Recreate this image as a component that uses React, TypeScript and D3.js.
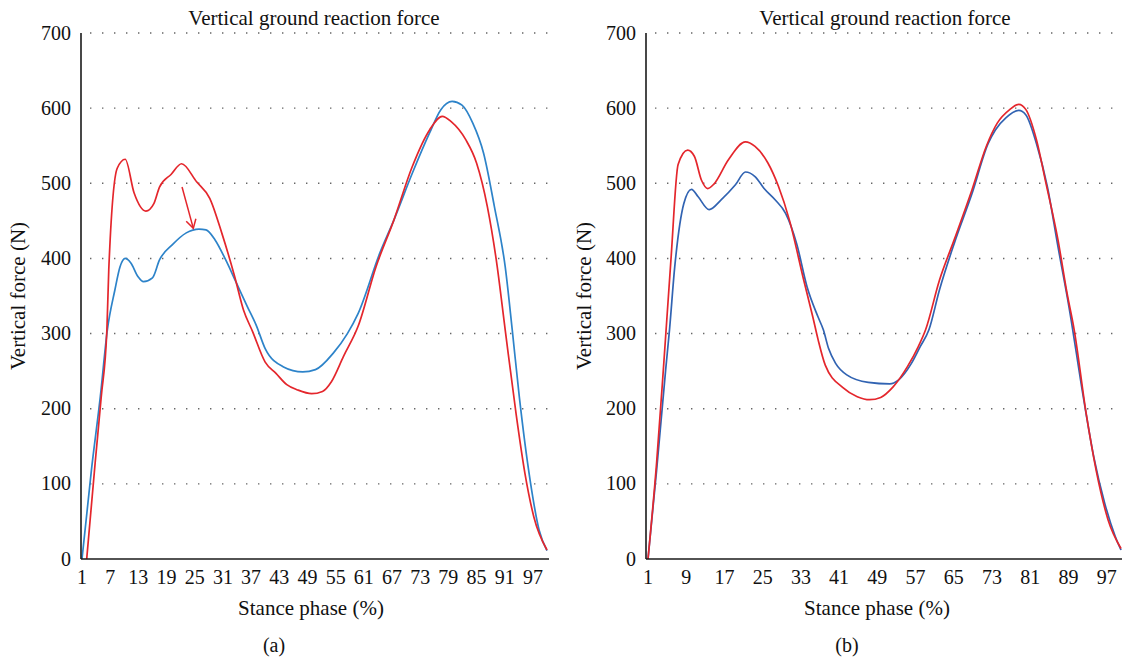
import React from "react";
import * as d3 from "d3";

// ---------- data ----------
const forceTicks = [0, 100, 200, 300, 400, 500, 600, 700];
const phaseTicksA = [1, 7, 13, 19, 25, 31, 37, 43, 49, 55, 61, 67, 73, 79, 85, 91, 97];
const phaseTicksB = [1, 9, 17, 25, 33, 41, 49, 57, 65, 73, 81, 89, 97];

const chartTitle = "Vertical ground reaction force";
const yTitle = "Vertical force (N)";
const xTitle = "Stance phase (%)";
const panelLabels = ["(a)", "(b)"];

// Panel (a): [stance phase %, force N]
const aRed: [number, number][] = [
  [2, 0], [3.8, 128], [5.1, 216], [6.3, 305], [6.7, 385], [8.5, 520], [10.2, 532],
  [12.1, 487], [14.6, 463], [16.3, 473], [17.5, 495], [20, 512], [22.2, 526],
  [25.4, 502], [28.2, 480], [30.8, 433], [33.5, 376], [35.4, 331], [37.3, 303],
  [40, 262], [42.3, 247], [44.6, 232], [46.9, 225], [49.9, 220], [52.2, 223],
  [54.1, 236], [56.7, 270], [59.8, 310], [63.6, 389], [67.4, 451], [71.3, 522],
  [75, 571], [77.7, 589], [79.6, 582], [82.7, 558], [85, 527], [87.3, 469],
  [89.2, 398], [91.1, 305], [93.4, 194], [95.3, 114], [97.2, 56], [100, 12],
];
const aBlue: [number, number][] = [
  [1, 0], [3, 118], [4.9, 216], [6.4, 305], [8, 358], [9.1, 389], [10.2, 400],
  [11.4, 394], [12.9, 376], [14.1, 369], [16, 374], [17.5, 398], [20.2, 418],
  [23.2, 434], [25.9, 439], [27.4, 438], [29.3, 425], [31.6, 398], [33.9, 367],
  [36.2, 336], [38.1, 311], [40, 280], [43.8, 256], [48, 249], [50.7, 252],
  [54.5, 274], [57.5, 300], [59.8, 327], [64.4, 407], [67.4, 451], [71.3, 513],
  [75, 567], [77.4, 598], [79.8, 609], [81.9, 604], [84.2, 580], [86.5, 540],
  [88.8, 469], [91.1, 389], [92.6, 305], [94.1, 216], [96.4, 105], [98.3, 39], [100, 11],
];
// red arrow annotation in panel (a): [from, to]
const aArrow: [number, number][] = [[22.3, 495], [24.7, 440]];

// Panel (b)
const bRed: [number, number][] = [
  [1, 0], [2.8, 128], [4.3, 260], [5.8, 398], [7.3, 525], [9.3, 544], [10.7, 536],
  [12.2, 504], [13.5, 493], [14.8, 499], [17.8, 531], [21.4, 555], [23.4, 549],
  [26.1, 527], [28.3, 496], [30.6, 451], [33.6, 371], [35.5, 322], [36.6, 292],
  [38.1, 258], [41.8, 228], [44.8, 216], [47.4, 212], [49.7, 215], [52.3, 229],
  [55.3, 256], [57.6, 283], [59.1, 305], [62, 371], [65.1, 425], [68.8, 491],
  [71.8, 549], [74.1, 580], [76.7, 598], [78.6, 605], [80.1, 598], [82.3, 558],
  [84.3, 500], [86.8, 425], [88.7, 354], [90.2, 305], [92.7, 194], [94.8, 118],
  [97.3, 52], [100, 14],
];
const bBlue: [number, number][] = [
  [1, 0], [2.8, 118], [4.7, 252], [5.5, 305], [6.6, 389], [8.5, 473], [10.1, 492],
  [11.5, 482], [13.8, 465], [16.3, 478], [19.3, 498], [21.4, 515], [23.4, 509],
  [25.3, 493], [27.6, 478], [29.8, 460], [32.1, 420], [34.3, 362], [36.6, 322],
  [37.7, 305], [38.8, 280], [40.3, 260], [42.6, 245], [47.1, 235], [51.6, 233],
  [53.4, 238], [56.1, 260], [58, 283], [59.8, 305], [62, 358], [65.1, 420],
  [68.8, 486], [72.2, 553], [73.7, 571], [75.9, 587], [78.6, 597], [80.1, 591],
  [82.3, 553], [84.6, 495], [86.8, 416], [89.1, 336], [92.1, 216], [94.3, 136],
  [96.6, 74], [98.8, 30], [100, 12],
];

// ---------- styling ----------
const FONT = '"Liberation Serif", "DejaVu Serif", "Times New Roman", Times, serif';
const RED = "#e4262c";
const BLUE_A = "#2d83c9";
const BLUE_B = "#3163b2";

type PanelProps = {
  x0: number; // pixel of phase 1
  x1: number; // pixel of phase 100
  axisX: number;
  gridStart: number;
  gridEnd: number;
  yLabelRight: number;
  yTitleX: number;
  titleX: number;
  xTitleX: number;
  labelX: number;
  ticks: number[];
  red: [number, number][];
  blue: [number, number][];
  blueColor: string;
  label: string;
  arrow?: [number, number][];
};

const yScale = d3.scaleLinear().domain([0, 700]).range([559, 33]);

function Panel(p: PanelProps) {
  const x = d3.scaleLinear().domain([1, 100]).range([p.x0, p.x1]);
  const line = d3
    .line<[number, number]>()
    .x((d) => x(d[0]))
    .y((d) => yScale(d[1]))
    .curve(d3.curveMonotoneX);

  let arrowEl: React.ReactNode = null;
  if (p.arrow) {
    const [a, b] = p.arrow;
    const ax = x(a[0]), ay = yScale(a[1]);
    const bx = x(b[0]), by = yScale(b[1]);
    const ang = Math.atan2(by - ay, bx - ax);
    const len = 10;
    const spread = Math.PI / 6;
    const h1 = [bx - len * Math.cos(ang - spread), by - len * Math.sin(ang - spread)];
    const h2 = [bx - len * Math.cos(ang + spread), by - len * Math.sin(ang + spread)];
    arrowEl = (
      <g stroke={RED} strokeWidth={1.5} fill="none">
        <line x1={ax} y1={ay} x2={bx} y2={by} />
        <polyline points={`${h1[0]},${h1[1]} ${bx},${by} ${h2[0]},${h2[1]}`} />
      </g>
    );
  }

  const yMid = (yScale(0) + yScale(700)) / 2;
  const txt = { fontFamily: FONT, fill: "#111" } as React.CSSProperties;

  return (
    <g>
      {/* title */}
      <text x={p.titleX} y={25} textAnchor="middle" style={{ ...txt, fontSize: "21px" }}>
        {chartTitle}
      </text>
      {/* grid */}
      {forceTicks.filter((t) => t > 0).map((t) => (
        <line
          key={t}
          x1={p.gridStart}
          x2={p.gridEnd}
          y1={yScale(t)}
          y2={yScale(t)}
          stroke="#666"
          strokeWidth={1.4}
          strokeDasharray="1.4 10.6"
        />
      ))}
      {/* y tick labels */}
      {forceTicks.map((t) => (
        <text key={t} x={p.yLabelRight} y={yScale(t) + 6.5} textAnchor="end" style={{ ...txt, fontSize: "20px" }}>
          {t}
        </text>
      ))}
      {/* x tick labels */}
      {p.ticks.map((t) => (
        <text key={t} x={x(t)} y={583.5} textAnchor="middle" style={{ ...txt, fontSize: "20px" }}>
          {t}
        </text>
      ))}
      {/* axis titles */}
      <text
        transform={`translate(${p.yTitleX},${yMid}) rotate(-90)`}
        textAnchor="middle"
        style={{ ...txt, fontSize: "21px" }}
      >
        {yTitle}
      </text>
      <text x={p.xTitleX} y={615} textAnchor="middle" style={{ ...txt, fontSize: "21px" }}>
        {xTitle}
      </text>
      <text x={p.labelX} y={652} textAnchor="middle" style={{ ...txt, fontSize: "20px" }}>
        {p.label}
      </text>
      {/* series */}
      <path d={line(p.blue) || ""} fill="none" stroke={p.blueColor} strokeWidth={1.7} />
      <path d={line(p.red) || ""} fill="none" stroke={RED} strokeWidth={1.7} />
      {arrowEl}
      {/* axes */}
      <line x1={p.axisX} x2={p.axisX} y1={yScale(700)} y2={yScale(0)} stroke="#1a1a1a" strokeWidth={1.6} />
      <line x1={p.axisX} x2={p.gridEnd} y1={yScale(0)} y2={yScale(0)} stroke="#1a1a1a" strokeWidth={1.6} />
    </g>
  );
}

export default function App() {
  return (
    <svg
      width={1122}
      height={660}
      viewBox="0 0 1122 660"
      style={{ position: "absolute", left: 0, top: 0, display: "block", background: "#fff" }}
    >
      <rect x={0} y={0} width={1122} height={660} fill="#fff" />
      <Panel
        x0={82}
        x1={547}
        axisX={81}
        gridStart={90}
        gridEnd={549}
        yLabelRight={71}
        yTitleX={25}
        titleX={314}
        xTitleX={311}
        labelX={274}
        ticks={phaseTicksA}
        red={aRed}
        blue={aBlue}
        blueColor={BLUE_A}
        label={panelLabels[0]}
        arrow={aArrow}
      />
      <Panel
        x0={648}
        x1={1121}
        axisX={646}
        gridStart={655}
        gridEnd={1122}
        yLabelRight={636}
        yTitleX={591}
        titleX={885}
        xTitleX={877}
        labelX={847}
        ticks={phaseTicksB}
        red={bRed}
        blue={bBlue}
        blueColor={BLUE_B}
        label={panelLabels[1]}
      />
    </svg>
  );
}
